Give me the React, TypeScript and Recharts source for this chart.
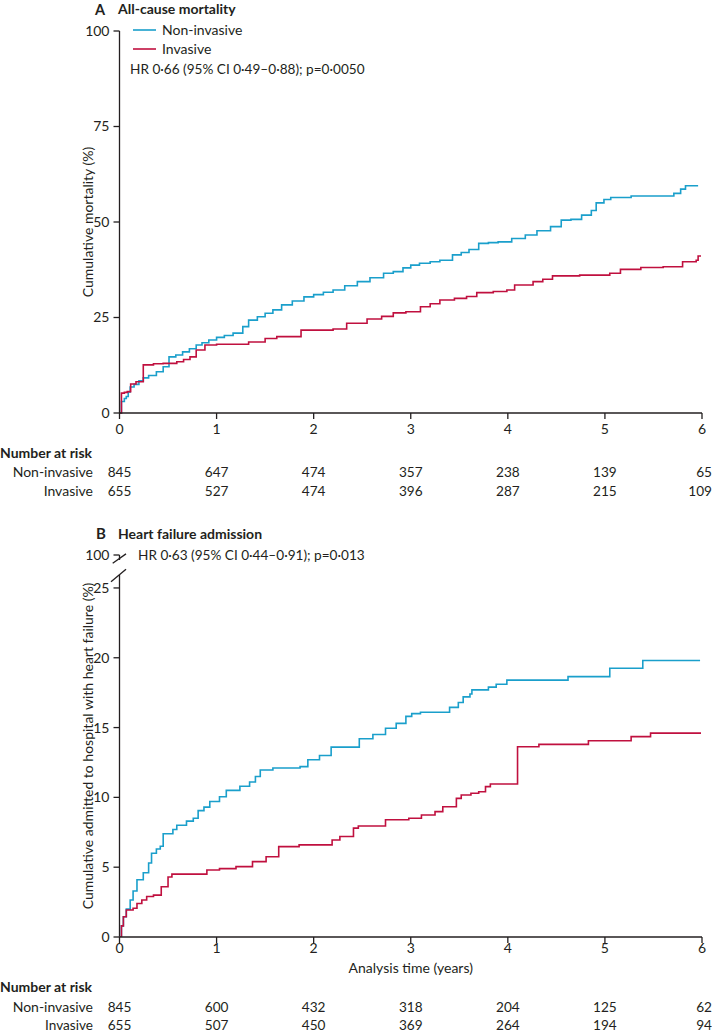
import React from 'react';
import { LineChart, Line, XAxis, YAxis, ReferenceLine, Legend } from 'recharts';

const FONT = 'Lato, "Open Sans", sans-serif';
const INK = '#231f20';
const BLUE = '#1a9fcb';
const RED = '#c0103f';

const years = [0, 1, 2, 3, 4, 5, 6];

// A: all-cause mortality (cumulative %)
const aNonInvT = [0, 0.02, 0.05, 0.07, 0.09, 0.11, 0.15, 0.2, 0.245, 0.3, 0.38, 0.45, 0.51, 0.58, 0.65, 0.72, 0.79, 0.85, 0.92, 1.0, 1.08, 1.17, 1.27, 1.33, 1.42, 1.5, 1.58, 1.67, 1.78, 1.9, 2.0, 2.1, 2.2, 2.32, 2.45, 2.58, 2.72, 2.82, 2.92, 3.0, 3.09, 3.2, 3.3, 3.43, 3.52, 3.6, 3.7, 3.8, 3.9, 4.04, 4.18, 4.3, 4.44, 4.55, 4.65, 4.76, 4.86, 4.91, 4.99, 5.06, 5.27, 5.71, 5.78, 5.83, 5.96];
const aNonInvV = [0, 3.0, 3.8, 4.3, 5.5, 6.8, 7.5, 8.4, 9.2, 9.8, 10.8, 12.1, 14.7, 15.2, 16.0, 16.8, 17.8, 18.4, 19.1, 19.8, 20.3, 20.9, 22.6, 24.3, 25.2, 26.1, 27.0, 28.3, 29.3, 30.4, 31.0, 31.6, 32.2, 33.3, 34.4, 35.4, 36.6, 37.0, 38.0, 38.7, 39.2, 39.6, 40.0, 41.4, 42.0, 42.8, 44.4, 44.6, 44.8, 45.7, 46.6, 47.7, 48.8, 50.5, 50.7, 51.8, 53.0, 55.0, 55.9, 56.4, 56.8, 57.5, 58.6, 59.5, 59.5];
const aInvT = [0, 0.02, 0.05, 0.08, 0.115, 0.17, 0.245, 0.35, 0.45, 0.59, 0.66, 0.726, 0.79, 0.88, 1.0, 1.17, 1.33, 1.5, 1.62, 1.87, 2.2, 2.34, 2.55, 2.7, 2.82, 2.95, 3.1, 3.2, 3.3, 3.45, 3.575, 3.68, 3.85, 3.99, 4.07, 4.26, 4.36, 4.46, 4.74, 5.05, 5.16, 5.37, 5.6, 5.8, 5.94, 5.96, 5.99];
const aInvV = [0, 5.2, 5.4, 5.6, 7.6, 8.2, 12.6, 12.9, 13.0, 13.4, 14.0, 14.7, 16.5, 17.8, 18.0, 18.0, 18.6, 19.5, 20.0, 21.7, 22.0, 23.5, 24.6, 25.3, 26.2, 26.5, 27.8, 28.6, 29.6, 30.0, 30.5, 31.5, 31.8, 32.2, 33.5, 34.4, 35.0, 35.9, 36.1, 36.6, 37.6, 38.1, 38.3, 39.6, 40.0, 41.1, 41.1];
const aNonInvRisk = [845, 647, 474, 357, 238, 139, 65];
const aInvRisk = [655, 527, 474, 396, 287, 215, 109];

// B: heart failure admission (cumulative %)
const bNonInvT = [0, 0.02, 0.04, 0.07, 0.11, 0.14, 0.18, 0.245, 0.3, 0.33, 0.38, 0.42, 0.45, 0.55, 0.59, 0.69, 0.76, 0.81, 0.87, 0.93, 1.03, 1.1, 1.24, 1.34, 1.4, 1.45, 1.58, 1.86, 1.94, 2.06, 2.18, 2.47, 2.61, 2.74, 2.85, 2.95, 3.01, 3.1, 3.4, 3.49, 3.54, 3.61, 3.63, 3.8, 3.88, 3.99, 4.62, 5.05, 5.39, 5.98];
const bNonInvV = [0, 0.8, 1.45, 2.0, 2.65, 3.3, 4.1, 4.6, 5.3, 6.0, 6.3, 6.5, 7.4, 7.7, 8.0, 8.3, 8.5, 9.05, 9.3, 9.7, 10.05, 10.5, 10.8, 11.1, 11.5, 11.96, 12.1, 12.2, 12.7, 13.0, 13.6, 14.2, 14.5, 14.95, 15.3, 15.8, 16.0, 16.1, 16.45, 16.8, 17.2, 17.4, 17.7, 17.9, 18.1, 18.4, 18.65, 19.25, 19.8, 19.8];
const bInvT = [0, 0.02, 0.04, 0.07, 0.14, 0.18, 0.23, 0.28, 0.35, 0.43, 0.5, 0.54, 0.9, 1.03, 1.2, 1.37, 1.51, 1.64, 1.85, 2.19, 2.27, 2.41, 2.46, 2.74, 2.98, 3.11, 3.25, 3.33, 3.47, 3.52, 3.62, 3.7, 3.77, 3.82, 4.1, 4.32, 4.83, 5.27, 5.47, 5.99];
const bInvV = [0, 0.8, 1.45, 1.93, 2.06, 2.4, 2.65, 2.9, 3.0, 3.6, 4.3, 4.5, 4.8, 4.9, 5.04, 5.4, 5.75, 6.47, 6.6, 6.95, 7.2, 7.8, 7.95, 8.4, 8.5, 8.74, 8.98, 9.33, 9.93, 10.17, 10.3, 10.4, 10.77, 10.96, 13.63, 13.8, 14.06, 14.35, 14.6, 14.6];
const bNonInvRisk = [845, 600, 432, 318, 204, 125, 62];
const bInvRisk = [655, 507, 450, 369, 264, 194, 94];

// panel B y axis: 0-25 linear, then a break up to the "100" tick
const bTicks = [0, 5, 10, 15, 20, 25, 27.36];
const bTop = 27.36;

const pts = (t: number[], v: number[]) => t.map((x, i) => ({ t: x, v: v[i] }));

function RiskTick(props: any) {
  const { x, y, payload, offsets, rows } = props;
  const i = years.indexOf(payload.value);
  const last = i === years.length - 1;
  // last column sits flush with the right edge, like the printed table
  const nx = last ? x + 10 : x;
  const anchor = last ? 'end' : 'middle';
  return (
    <g fontFamily={FONT} fontSize={14} fill={INK}>
      <text x={x} y={y + offsets[0]} textAnchor="middle">{payload.value}</text>
      <text x={nx} y={y + offsets[1]} textAnchor={anchor} fontSize={13.6}>{rows[0][i]}</text>
      <text x={nx} y={y + offsets[2]} textAnchor={anchor} fontSize={13.6}>{rows[1][i]}</text>
    </g>
  );
}

function YTitle(props: any) {
  const { viewBox, value } = props;
  const cx = viewBox.x + 8.5;
  const cy = viewBox.y + viewBox.height / 2;
  return (
    <text transform={`translate(${cx},${cy}) rotate(-90)`} textAnchor="middle" fontFamily={FONT} fontSize={14} fill={INK} dy={5}>
      {value}
    </text>
  );
}

function LegendA() {
  return (
    <svg width={320} height={60} style={{ display: 'block' }}>
      <line x1={3} x2={26} y1={10} y2={10} stroke={BLUE} strokeWidth={1.6} />
      <text x={32} y={15} fontFamily={FONT} fontSize={14} fill={INK}>Non-invasive</text>
      <line x1={3} x2={26} y1={29} y2={29} stroke={RED} strokeWidth={1.6} />
      <text x={32} y={34} fontFamily={FONT} fontSize={14} fill={INK}>Invasive</text>
      <text x={0} y={54} fontFamily={FONT} fontSize={13.6} fill={INK}>HR 0·66 (95% CI 0·49–0·88); p=0·0050</text>
    </svg>
  );
}

const axisStroke = { stroke: INK, strokeWidth: 1.3 };
const tickStyle = { fontSize: 14, fill: INK, fontFamily: FONT };

export default function App() {
  return (
    <div style={{ position: 'absolute', left: 0, top: 0, width: 712, height: 1032, background: '#fff', fontFamily: FONT }}>
      <div style={{ position: 'absolute', left: 0, top: 0 }}>
        <LineChart width={712} height={505} margin={{ top: 31, right: 10, bottom: 62, left: 79.5 }}>
          <XAxis
            dataKey="t"
            type="number"
            domain={[0, 6]}
            ticks={years}
            height={30}
            axisLine={axisStroke}
            tickLine={axisStroke}
            tickSize={6}
            tickMargin={0}
            tick={<RiskTick offsets={[15, 58, 77]} rows={[aNonInvRisk, aInvRisk]} />}
          />
          <YAxis
            type="number"
            domain={[0, 100]}
            ticks={[0, 25, 50, 75, 100]}
            width={40}
            axisLine={axisStroke}
            tickLine={axisStroke}
            tickSize={6}
            tickMargin={4}
            tick={tickStyle}
            label={{ value: 'Cumulative mortality (%)', content: (p: any) => <YTitle {...p} value="Cumulative mortality (%)" /> }}
          />
          <Legend layout="vertical" align="center" verticalAlign="middle" wrapperStyle={{ top: 20, left: 130, width: 320, height: 60 }} content={() => <LegendA />} />
          <Line data={pts(aNonInvT, aNonInvV)} dataKey="v" name="Non-invasive" type="stepAfter" stroke={BLUE} strokeWidth={1.6} dot={false} isAnimationActive={false} />
          <Line data={pts(aInvT, aInvV)} dataKey="v" name="Invasive" type="stepAfter" stroke={RED} strokeWidth={1.6} dot={false} isAnimationActive={false} />
        </LineChart>
      </div>

      <div style={{ position: 'absolute', left: 0, top: 500 }}>
        <LineChart width={712} height={532} margin={{ top: 55, right: 10, bottom: 61, left: 79.5 }}>
          <XAxis
            dataKey="t"
            type="number"
            domain={[0, 6]}
            ticks={years}
            height={34}
            axisLine={axisStroke}
            tickLine={axisStroke}
            tickSize={6}
            tickMargin={0}
            tick={<RiskTick offsets={[10, 69, 86.5]} rows={[bNonInvRisk, bInvRisk]} />}
            label={{
              value: 'Analysis time (years)',
              content: (p: any) => (
                <text x={p.viewBox.x + p.viewBox.width / 2} y={p.viewBox.y + 36} textAnchor="middle" fontFamily={FONT} fontSize={14} fill={INK}>
                  Analysis time (years)
                </text>
              ),
            }}
          />
          <YAxis
            type="number"
            domain={[0, bTop]}
            ticks={bTicks}
            allowDataOverflow
            width={40}
            axisLine={false}
            tickLine={axisStroke}
            tickSize={6}
            tickMargin={4}
            tick={tickStyle}
            tickFormatter={(v: number) => (v > 26 ? '100' : String(v))}
            label={{ value: 'y', content: (p: any) => <YTitle {...p} value="Cumulative admitted to hospital with heart failure (%)" /> }}
          />
          <ReferenceLine segment={[{ x: 0, y: 0 }, { x: 0, y: 25.93 }]} stroke={INK} strokeWidth={1.3} ifOverflow="visible" />
          <ReferenceLine segment={[{ x: 0, y: 27.0 }, { x: 0, y: bTop }]} stroke={INK} strokeWidth={1.3} ifOverflow="visible" />
          <ReferenceLine segment={[{ x: -0.07, y: 26.77 }, { x: 0.067, y: 27.44 }]} stroke={INK} strokeWidth={1.3} ifOverflow="visible" />
          <ReferenceLine segment={[{ x: -0.0875, y: 25.45 }, { x: 0.067, y: 26.34 }]} stroke={INK} strokeWidth={1.3} ifOverflow="visible" />
          <Line data={pts(bNonInvT, bNonInvV)} dataKey="v" name="Non-invasive" type="stepAfter" stroke={BLUE} strokeWidth={1.6} dot={false} isAnimationActive={false} />
          <Line data={pts(bInvT, bInvV)} dataKey="v" name="Invasive" type="stepAfter" stroke={RED} strokeWidth={1.6} dot={false} isAnimationActive={false} />
        </LineChart>
      </div>

      <svg width={712} height={1032} style={{ position: 'absolute', left: 0, top: 0, pointerEvents: 'none' }} fontFamily={FONT} fill={INK}>
        <text x={95} y={14.5} fontSize={14.5} fontWeight={700}>A</text>
        <text x={118} y={14} fontSize={14} fontWeight={700}>All-cause mortality</text>
        <text x={0} y={458} fontSize={14} fontWeight={700}>Number at risk</text>
        <text x={93} y={477} fontSize={14} textAnchor="end">Non-invasive</text>
        <text x={93} y={496} fontSize={14} textAnchor="end">Invasive</text>

        <text x={96} y={539} fontSize={15} fontWeight={700}>B</text>
        <text x={118} y={538.5} fontSize={14} fontWeight={700}>Heart failure admission</text>
        <text x={138} y={560} fontSize={13.6}>HR 0·63 (95% CI 0·44–0·91); p=0·013</text>
        <text x={0} y={992} fontSize={14} fontWeight={700}>Number at risk</text>
        <text x={93} y={1012} fontSize={14} textAnchor="end">Non-invasive</text>
        <text x={93} y={1029.5} fontSize={13.6} textAnchor="end">Invasive</text>
      </svg>
    </div>
  );
}
